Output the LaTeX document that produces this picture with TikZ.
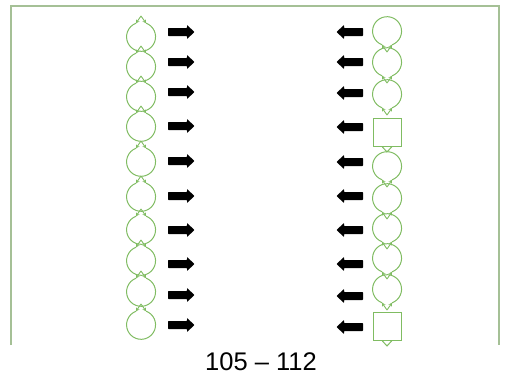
\documentclass[tikz,border=0pt]{standalone}
\usepackage{fontspec}
\setmainfont{Liberation Sans}
\usetikzlibrary{arrows.meta}
\definecolor{frameg}{RGB}{165,192,150}
\definecolor{shapeg}{RGB}{128,188,98}
\tikzset{
  ring/.style={circle, minimum size=29pt, inner sep=0pt},
  sq/.style={rectangle, minimum size=28pt, inner sep=0pt, draw=shapeg, line width=1pt},
  gline/.style={draw=shapeg, line width=1pt},
  tipline/.style={draw=shapeg, line width=0.9pt, -{Stealth[length=3.5pt,width=4pt]}},
  blk/.style={fill=black, rounded corners=0.6pt},
}
\begin{document}
\begin{tikzpicture}[x=1pt,y=-1pt]
\useasboundingbox (0,0) rectangle (506,381);
\draw[frameg, line width=1.6pt] (11,345) -- (11,6) -- (499,6) -- (499,345);
% left column
\foreach \i/\y/\a in {1/37/32,2/67/62,3/97/92,4/127/126,5/162/161,6/197/196,7/230/230,8/261/264,9/292/295,10/325/325}{
  \node[ring] (L\i) at (141,\y) {};
  \path[gline] (L\i.70) arc[start angle=70, end angle=-250, radius=14.5pt];
  \coordinate (LA\i) at (141,\y-21);
  \path[tipline] (LA\i) -- (L\i.70);
  \path[tipline] (LA\i) -- (L\i.110);
  \coordinate (RA\i) at (181,\a);
  \path[blk] ([shift={(-13,-4)}]RA\i) -- ([shift={(6,-4)}]RA\i) -- ([shift={(6,-7)}]RA\i)
     -- ([shift={(13.5,0)}]RA\i) -- ([shift={(6,7)}]RA\i) -- ([shift={(6,4)}]RA\i)
     -- ([shift={(-13,4)}]RA\i) -- cycle;
}
% right column circles
\foreach \i/\y in {1/31,2/62,3/94,5/166,6/198,7/228,8/258,9/289}{
  \node[ring] (R\i) at (387,\y) {};
  \path[gline] (R\i.-70) arc[start angle=-70, end angle=250, radius=14.5pt];
  \coordinate (RB\i) at (387,\y+21);
  \path[tipline] (RB\i) -- (R\i.-70);
  \path[tipline] (RB\i) -- (R\i.-110);
}
% right column squares
\foreach \i/\y in {4/132,10/326}{
  \node[sq] (R\i) at (387,\y) {};
  \coordinate (RB\i) at (387,\y+20);
  \path[gline] ([xshift=-5pt]R\i.south) -- (RB\i) -- ([xshift=5pt]R\i.south);
}
% left-pointing block arrows
\foreach \i/\a in {1/32,2/62,3/93,4/127,5/162,6/196,7/230,8/264,9/296,10/327}{
  \coordinate (LB\i) at (350,\a);
  \path[blk] ([shift={(13,-4)}]LB\i) -- ([shift={(-6,-4)}]LB\i) -- ([shift={(-6,-7)}]LB\i)
     -- ([shift={(-13.5,0)}]LB\i) -- ([shift={(-6,7)}]LB\i) -- ([shift={(-6,4)}]LB\i)
     -- ([shift={(13,4)}]LB\i) -- cycle;
}
\node[font=\fontsize{25.5}{30}\selectfont, inner sep=0pt] (lbl) at (261,362) {105 \textendash{} 112};
\end{tikzpicture}
\end{document}
